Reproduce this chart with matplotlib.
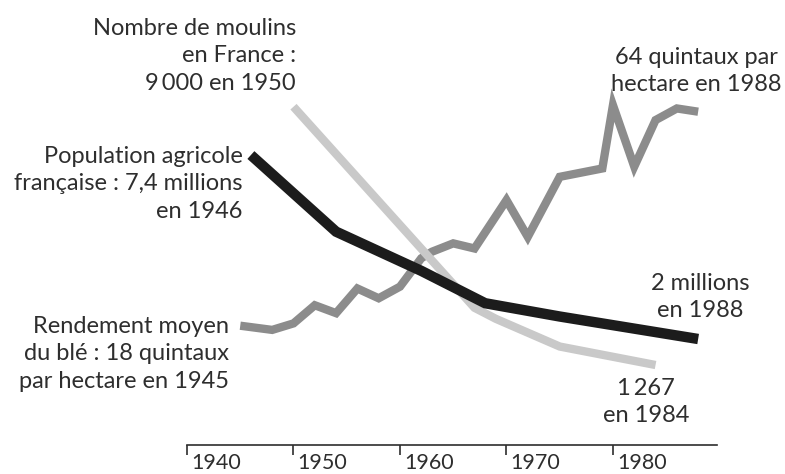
import numpy as np
import matplotlib.pyplot as plt
import matplotlib.transforms as mtransforms

plt.rcParams['font.family'] = ['Lato', 'DejaVu Sans']

# -----------------------------
# Données
# -----------------------------
# Population agricole française (millions)
pop_years = [1946, 1954, 1962, 1968, 1975, 1988]
pop_values = [7.4, 5.15, 4.0, 3.05, 2.66, 2.0]

# Nombre de moulins en France
moulins_years = [1950, 1967, 1969, 1975, 1984]
moulins_values = [9000, 2980, 2650, 1820, 1267]

# Rendement moyen du blé (quintaux par hectare)
ble_years = [1945, 1948, 1950, 1952, 1954, 1956, 1958, 1960, 1962, 1963,
             1965, 1967, 1970, 1972, 1975, 1979, 1980, 1982, 1984, 1986, 1988]
ble_values = [18, 17.1, 18.5, 22.4, 20.7, 26.0, 23.9, 26.4, 32.5, 33.9,
              35.7, 34.6, 45.0, 37.1, 50.0, 51.8, 65.4, 52.2, 62.2, 64.7, 64.0]

decades = [1940, 1950, 1960, 1970, 1980]

# -----------------------------
# Figure
# -----------------------------
W, H = 785, 474
fig = plt.figure(figsize=(W / 100, H / 100), dpi=100)

def fx(x):
    return x / W

def fy(y):
    return 1 - y / H

ax = fig.add_axes([fx(187), fy(445), fx(717) - fx(187), fy(0) - fy(445)])
ax_m = ax.twinx()
ax_b = ax.twinx()

ax.set_xlim(1940, 1989.77)
ax.set_ylim(-1.111, 11.95)       # population
ax_m.set_ylim(-1128, 12195)      # moulins
ax_b.set_ylim(-7.64, 88.01)      # rendement

txt = '#2e2e2e'

for a in (ax, ax_m, ax_b):
    for s in ('top', 'right', 'left'):
        a.spines[s].set_visible(False)
    a.set_yticks([])
    a.patch.set_visible(False)
ax_m.spines['bottom'].set_visible(False)
ax_b.spines['bottom'].set_visible(False)
ax.spines['bottom'].set_color(txt)
ax.spines['bottom'].set_linewidth(1.2)

ax_b.set_zorder(1)
ax_m.set_zorder(2)
ax.set_zorder(3)

ax_b.plot(ble_years, ble_values, color='#8c8c8c', lw=6,
          solid_joinstyle='miter', solid_capstyle='butt')
ax_m.plot(moulins_years, moulins_values, color='#c9c9c9', lw=6,
          solid_joinstyle='miter', solid_capstyle='butt')
ax.plot(pop_years, pop_values, color='#1c1c1c', lw=7.5,
        solid_joinstyle='miter', solid_capstyle='butt')

# axe des années
ax.set_xticks(decades)
ax.set_xticklabels([str(d) for d in decades])
ax.tick_params(axis='x', direction='out', length=7, width=1.2, color=txt,
               pad=0, labelsize=15.5, labelcolor=txt)
offset = mtransforms.ScaledTranslation(4 / 100, 1.5 / 100, fig.dpi_scale_trans)
for lab in ax.get_xticklabels():
    lab.set_ha('left')
    lab.set_transform(lab.get_transform() + offset)

# -----------------------------
# Annotations
# -----------------------------
fs = 17
kw = dict(fontsize=fs, color=txt, linespacing=1.38, va='center')

fig.text(fx(296), fy(56), "Nombre de moulins\nen France :\n9\u2009000 en 1950",
         ha='right', multialignment='right', **kw)
fig.text(fx(243), fy(184), "Population agricole\nfrançaise : 7,4 millions\nen 1946",
         ha='right', multialignment='right', **kw)
fig.text(fx(229), fy(354), "Rendement moyen\ndu blé : 18 quintaux\npar hectare en 1945",
         ha='right', multialignment='right', **kw)
fig.text(fx(696), fy(71), "64 quintaux par\nhectare en 1988",
         ha='center', multialignment='center', **kw)
fig.text(fx(700), fy(297), "2 millions\nen 1988",
         ha='center', multialignment='center', **kw)
fig.text(fx(646), fy(402), "1\u2009267\nen 1984",
         ha='center', multialignment='center', **kw)

fig.savefig('out.png', dpi=100)
